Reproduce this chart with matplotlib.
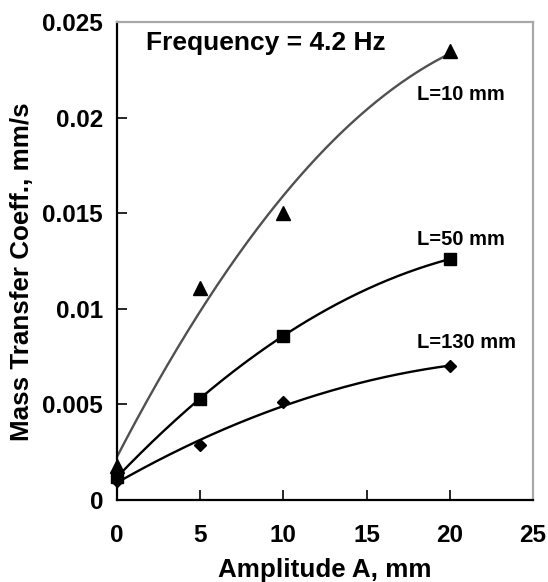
import matplotlib

matplotlib.use("Agg", force=True)
import matplotlib.pyplot as plt
import numpy as np

plt.rcParams["font.family"] = ["Liberation Sans", "DejaVu Sans"]
plt.rcParams["font.weight"] = "bold"

# amplitude (mm) and mass transfer coefficient (mm/s)
amplitude = [0, 5, 10, 20]
k_l10 = [0.0018, 0.0111, 0.0150, 0.0235]
k_l50 = [0.0012, 0.0053, 0.0086, 0.0126]
k_l130 = [0.0010, 0.0029, 0.0051, 0.0070]
series_labels = ["L=10 mm", "L=50 mm", "L=130 mm"]
x_ticks = [0, 5, 10, 15, 20, 25]
y_ticks = [0, 0.005, 0.01, 0.015, 0.02, 0.025]
y_tick_labels = ["0", "0.005", "0.01", "0.015", "0.02", "0.025"]

fig = plt.figure(figsize=(5.48, 5.82), dpi=100)
ax = fig.add_axes([117 / 548, 82 / 582, 416 / 548, 478 / 582])

styles = [
    (k_l10, "^", "#505050", 10),
    (k_l50, "s", "black", 9),
    (k_l130, "D", "black", 6.5),
]
xs = np.asarray(amplitude, dtype=float)
xfit = np.linspace(0, 20, 200)
for values, marker, line_color, msize in styles:
    # second order trendline through the measured points
    coeffs = np.polyfit(xs, values, 2)
    ax.plot(xfit, np.polyval(coeffs, xfit), color=line_color, lw=1.7, zorder=2)
    ax.plot(amplitude, values, linestyle="none", marker=marker, color="black",
            markersize=msize, zorder=3, clip_on=False)

label_y = [0.0212, 0.01365, 0.00825]
for text, ypos in zip(series_labels, label_y):
    ax.text(18.0, ypos, text, fontsize=14.5, fontweight="bold",
            va="center", ha="left")

ax.text(1.75, 0.0239, "Frequency = 4.2 Hz", fontsize=19,
        fontweight="bold", va="center", ha="left")

ax.set_xlim(0, 25)
ax.set_ylim(0, 0.025)
ax.set_xticks(x_ticks)
ax.set_yticks(y_ticks)
ax.set_yticklabels(y_tick_labels)
ax.tick_params(direction="in", length=7, width=1.2, labelsize=17.5)
ax.tick_params(axis="x", pad=17)
ax.tick_params(axis="y", pad=10)
for lab in ax.get_xticklabels() + ax.get_yticklabels():
    lab.set_fontweight("bold")

for side in ("left", "bottom"):
    ax.spines[side].set_color("black")
    ax.spines[side].set_linewidth(1.6)
for side in ("top", "right"):
    ax.spines[side].set_color("#a8a8a8")
    ax.spines[side].set_linewidth(1.6)

ax.set_xlabel("Amplitude A, mm", fontsize=18.7, fontweight="bold", labelpad=8)
ax.set_ylabel("Mass Transfer Coeff., mm/s", fontsize=18.7, fontweight="bold")
ax.yaxis.set_label_coords(-0.2, 0.477)

fig.savefig("out.png", dpi=100)
